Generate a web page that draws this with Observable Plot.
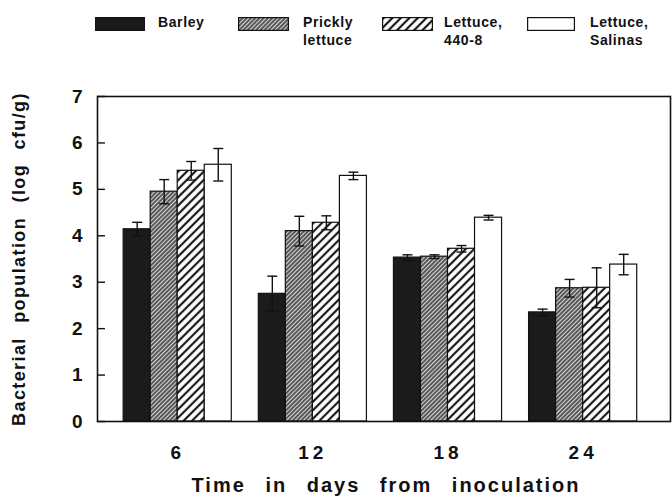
<!DOCTYPE html>
<html><head><meta charset="utf-8">
<script src="https://cdn.jsdelivr.net/npm/d3@7"></script>
<script src="https://cdn.jsdelivr.net/npm/@observablehq/plot@0.6"></script>
<style>
body{margin:0;background:#fff;font-family:"Liberation Sans",Arial,sans-serif;color:#111;}
#wrap{width:672px;}
#legend{position:relative;height:50px;width:672px;}
.sw{position:absolute;top:17px;height:14px;}
.lb{position:absolute;top:13px;font-weight:bold;font-size:14px;line-height:18px;letter-spacing:0.6px;}
</style></head>
<body>
<svg width="0" height="0" style="position:absolute">
<defs>
<pattern id="dense" patternUnits="userSpaceOnUse" width="3" height="3" patternTransform="rotate(45)">
<rect width="3" height="3" fill="#d8d8d8"/>
<line x1="1" y1="0" x2="1" y2="3" stroke="#222" stroke-width="1.4"/>
</pattern>
<pattern id="wide" patternUnits="userSpaceOnUse" width="6" height="6" patternTransform="rotate(45)">
<rect width="6" height="6" fill="#fff"/>
<line x1="2" y1="0" x2="2" y2="6" stroke="#1a1a1a" stroke-width="2.2"/>
</pattern>
</defs>
</svg>
<div id="wrap">
<div id="legend"></div>
<div id="chart"></div>
</div>
<script>
const days = [6, 12, 18, 24];
const varieties = ["Barley", "Prickly lettuce", "Lettuce, 440-8", "Lettuce, Salinas"];
const legendLines = [["Barley"], ["Prickly", "lettuce"], ["Lettuce,", "440-8"], ["Lettuce,", "Salinas"]];
const barley = [4.14, 2.75, 3.53, 2.35];
const barleyErr = [0.15, 0.38, 0.06, 0.07];
const prickly = [4.95, 4.10, 3.55, 2.87];
const pricklyErr = [0.26, 0.32, 0.04, 0.19];
const lettuce4408 = [5.40, 4.28, 3.72, 2.88];
const lettuce4408Err = [0.20, 0.15, 0.07, 0.43];
const salinas = [5.53, 5.29, 4.39, 3.38];
const salinasErr = [0.35, 0.08, 0.05, 0.22];
const fills = ["#1b1b1b", "url(#dense)", "url(#wide)", "#ffffff"];
const yTicks = [0, 1, 2, 3, 4, 5, 6, 7];

const values = [barley, prickly, lettuce4408, salinas];
const errs = [barleyErr, pricklyErr, lettuce4408Err, salinasErr];

// grouped band layout in [0,1] units of the x scale
const outer = d3.scaleBand(days, [0, 1]).paddingInner(0.2).paddingOuter(0.22).align(0.44);
const inner = d3.scaleBand(varieties, [0, outer.bandwidth()]);
const rows = [];
days.forEach((day, i) => {
  varieties.forEach((v, j) => {
    const x1 = outer(day) + inner(v);
    rows.push({day, variety: v, value: values[j][i], err: errs[j][i],
      x1, x2: x1 + inner.bandwidth(), xc: x1 + inner.bandwidth() / 2});
  });
});
const centers = days.map(d => outer(d) + outer.bandwidth() / 2);
const centerLabel = new Map(centers.map((c, i) => [c, String(days[i])]));

const cap = {draw(ctx, size) { const r = Math.sqrt(size / Math.PI); ctx.moveTo(-r, 0); ctx.lineTo(r, 0); }};

const chart = Plot.plot({
  width: 672, height: 449,
  marginTop: 46, marginBottom: 78, marginLeft: 97, marginRight: 2,
  style: {fontFamily: '"Liberation Sans", Arial, sans-serif', color: "#111", background: "#fff"},
  x: {domain: [0, 1], axis: null},
  y: {domain: [0, 7], axis: null},
  color: {domain: varieties, range: fills},
  marks: [
    Plot.rectY(rows, {x1: "x1", x2: "x2", y1: 0, y2: "value", fill: "variety", stroke: "#111", strokeWidth: 1.2}),
    Plot.ruleX(rows, {x: "xc", y1: d => d.value - d.err, y2: d => d.value + d.err, stroke: "#111", strokeWidth: 1.4}),
    Plot.dot(rows, {x: "xc", y: d => d.value - d.err, symbol: cap, r: 5, stroke: "#111", strokeWidth: 1.4}),
    Plot.dot(rows, {x: "xc", y: d => d.value + d.err, symbol: cap, r: 5, stroke: "#111", strokeWidth: 1.4}),
    Plot.frame({stroke: "#111", strokeWidth: 1.6}),
    Plot.axisY(yTicks, {label: null, tickSize: -8, tickPadding: 23, fontSize: 19, fontWeight: "bold", strokeWidth: 1.4}),
    Plot.axisX(centers, {label: null, tickSize: 0, tickPadding: 24, fontSize: 19, fontWeight: "bold", tickFormat: d => centerLabel.get(d)}),
    Plot.text(["Bacterial population (log cfu/g)"], {frameAnchor: "left", textAnchor: "middle", rotate: -90, dx: -78, fontSize: 18, fontWeight: "bold"}),
    Plot.text(["Time in days from inoculation"], {frameAnchor: "bottom", textAnchor: "middle", dy: 70, dx: 2, fontSize: 20, fontWeight: "bold"})
  ]
});
document.getElementById("chart").append(chart);
const s = d3.select(chart);
s.selectAll('g[aria-label="x-axis tick label"] text').style("letter-spacing", "4px");
const titles = s.selectAll('g[aria-label="text"] text');
titles.filter((d, i, n) => n[i].textContent.startsWith("Bacterial")).style("letter-spacing", "1.4px").style("word-spacing", "8px");
titles.filter((d, i, n) => n[i].textContent.startsWith("Time")).style("letter-spacing", "2px").style("word-spacing", "12px");

// legend
const swX = [95, 238, 382, 527];
const swW = [50, 51, 51, 48];
const lbX = [158, 303, 444, 590];
const legend = document.getElementById("legend");
varieties.forEach((v, j) => {
  const sw = document.createElementNS("http://www.w3.org/2000/svg", "svg");
  sw.setAttribute("class", "sw");
  sw.setAttribute("width", swW[j]); sw.setAttribute("height", 14);
  sw.style.left = swX[j] + "px";
  const r = document.createElementNS("http://www.w3.org/2000/svg", "rect");
  r.setAttribute("x", 0.6); r.setAttribute("y", 0.6);
  r.setAttribute("width", swW[j] - 1.2); r.setAttribute("height", 12.8);
  r.setAttribute("fill", fills[j]); r.setAttribute("stroke", "#111"); r.setAttribute("stroke-width", 1.2);
  sw.append(r);
  legend.append(sw);
  const lb = document.createElement("div");
  lb.className = "lb";
  lb.style.left = lbX[j] + "px";
  lb.innerHTML = legendLines[j].join("<br>");
  legend.append(lb);
});
</script>
</body></html>
